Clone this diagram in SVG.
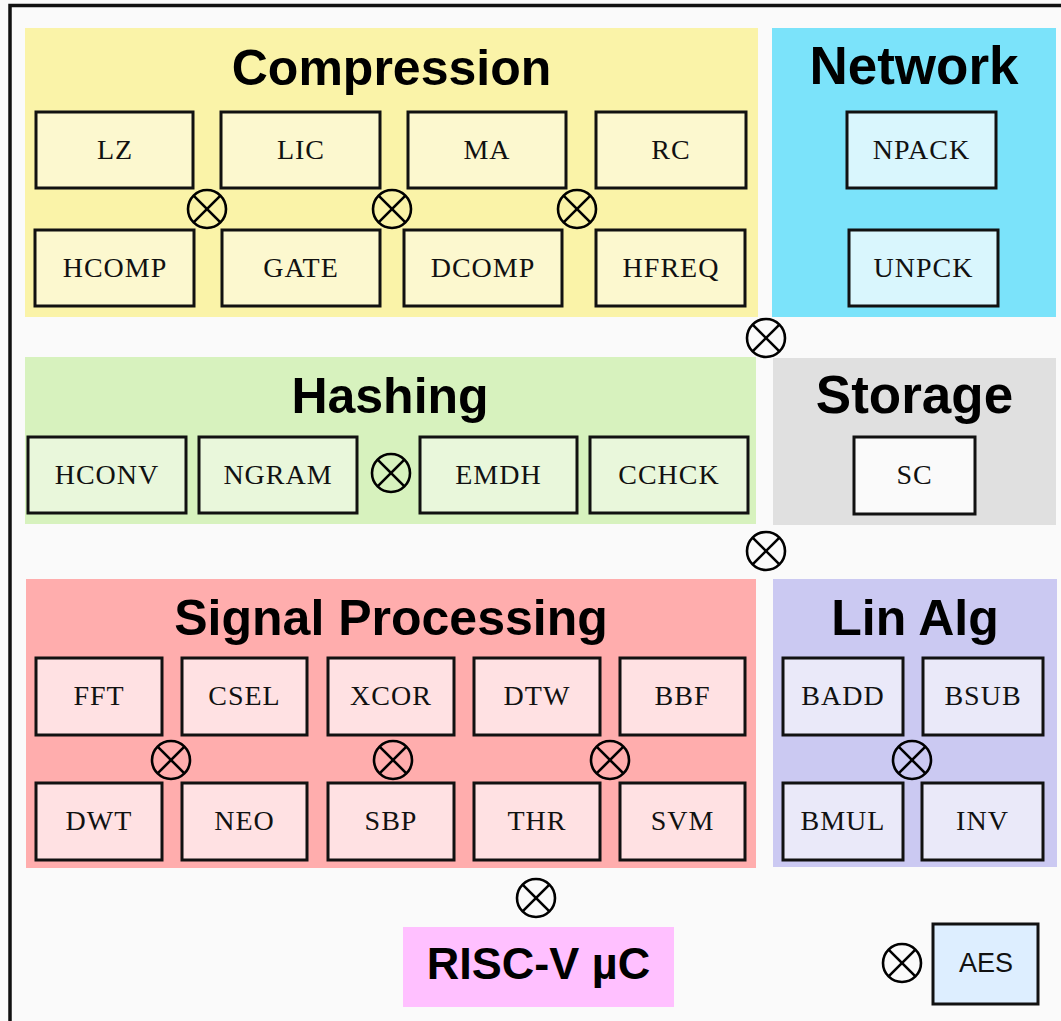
<svg xmlns="http://www.w3.org/2000/svg" xmlns:xlink="http://www.w3.org/1999/xlink" width="1061" height="1021" viewBox="0 0 1061 1021">
<style>
.bg{fill:#FAFAFA}
.title{font-family:"Liberation Sans",Arial,sans-serif;font-weight:bold;font-size:50px;text-anchor:middle;fill:#000}
.title.wide{font-size:53px}
.box{stroke:#111;stroke-width:3}
.lbl{font-family:"Liberation Serif","Times New Roman",serif;font-size:28px;letter-spacing:1px;text-anchor:middle;fill:#111}
.xing circle{fill:none;stroke:#000;stroke-width:2.6}
.xing line{stroke:#000;stroke-width:2.6}
</style>
<defs>
<g id="xor" class="xing">
<circle cx="0" cy="0" r="19"/>
<line x1="-13.4" y1="-13.4" x2="13.4" y2="13.4"/>
<line x1="13.4" y1="-13.4" x2="-13.4" y2="13.4"/>
</g>
</defs>
<rect class="bg" x="0" y="0" width="1061" height="1021"/>
<path d="M10,1021 V5.5 H1061" fill="none" stroke="#111" stroke-width="3.5"/>

<g id="compression">
<rect x="25" y="28" width="733" height="289" fill="#FAF3A8"/>
<text class="title" x="391.5" y="85">Compression</text>
<g fill="#FCF8CF">
<rect class="box" x="36" y="112" width="157" height="76"/>
<rect class="box" x="221" y="112" width="159" height="76"/>
<rect class="box" x="408" y="112" width="158" height="76"/>
<rect class="box" x="596" y="112" width="150" height="76"/>
<rect class="box" x="35" y="230" width="159" height="76"/>
<rect class="box" x="222" y="230" width="158" height="76"/>
<rect class="box" x="404" y="230" width="158" height="76"/>
<rect class="box" x="596" y="230" width="149" height="76"/>
</g>
<text class="lbl" x="115" y="159">LZ</text>
<text class="lbl" x="301" y="159">LIC</text>
<text class="lbl" x="487" y="159">MA</text>
<text class="lbl" x="671" y="159">RC</text>
<text class="lbl" x="115" y="277">HCOMP</text>
<text class="lbl" x="301" y="277">GATE</text>
<text class="lbl" x="483" y="277">DCOMP</text>
<text class="lbl" x="671" y="277">HFREQ</text>
</g>

<g id="network">
<rect x="772" y="28" width="284" height="289" fill="#7BE3FA"/>
<text class="title wide" x="914" y="84">Network</text>
<g fill="#D9F6FD">
<rect class="box" x="847" y="112" width="149" height="76"/>
<rect class="box" x="849" y="230" width="149" height="76"/>
</g>
<text class="lbl" x="921.5" y="159">NPACK</text>
<text class="lbl" x="923.5" y="277">UNPCK</text>
</g>

<g id="hashing">
<rect x="25" y="357" width="731" height="167" fill="#D7F2BE"/>
<text class="title" x="390" y="413">Hashing</text>
<g fill="#E9F7DB">
<rect class="box" x="28" y="437" width="158" height="76"/>
<rect class="box" x="199" y="437" width="158" height="76"/>
<rect class="box" x="420" y="437" width="157" height="76"/>
<rect class="box" x="590" y="437" width="158" height="76"/>
</g>
<text class="lbl" x="107" y="484">HCONV</text>
<text class="lbl" x="278" y="484">NGRAM</text>
<text class="lbl" x="498.5" y="484">EMDH</text>
<text class="lbl" x="669" y="484">CCHCK</text>
</g>

<g id="storage">
<rect x="773" y="358" width="283" height="167" fill="#E0E0E0"/>
<text class="title wide" x="914.5" y="413">Storage</text>
<rect class="box" x="854" y="437" width="121" height="77" fill="#FAFAFA"/>
<text class="lbl" x="914.5" y="484">SC</text>
</g>

<g id="signal-processing">
<rect x="26" y="579" width="730" height="289" fill="#FFADAD"/>
<text class="title" x="391" y="635">Signal Processing</text>
<g fill="#FFE1E3">
<rect class="box" x="36" y="658" width="126" height="77"/>
<rect class="box" x="182" y="658" width="125" height="77"/>
<rect class="box" x="328" y="658" width="126" height="77"/>
<rect class="box" x="474" y="658" width="126" height="77"/>
<rect class="box" x="620" y="658" width="125" height="77"/>
<rect class="box" x="36" y="783" width="126" height="77"/>
<rect class="box" x="182" y="783" width="125" height="77"/>
<rect class="box" x="328" y="783" width="126" height="77"/>
<rect class="box" x="474" y="783" width="126" height="77"/>
<rect class="box" x="620" y="783" width="125" height="77"/>
</g>
<text class="lbl" x="99" y="705">FFT</text>
<text class="lbl" x="244.5" y="705">CSEL</text>
<text class="lbl" x="391" y="705">XCOR</text>
<text class="lbl" x="537" y="705">DTW</text>
<text class="lbl" x="682.5" y="705">BBF</text>
<text class="lbl" x="99" y="830">DWT</text>
<text class="lbl" x="244.5" y="830">NEO</text>
<text class="lbl" x="391" y="830">SBP</text>
<text class="lbl" x="537" y="830">THR</text>
<text class="lbl" x="682.5" y="830">SVM</text>
</g>

<g id="lin-alg">
<rect x="773" y="579" width="284" height="288" fill="#CBC9F2"/>
<text class="title" x="915" y="635">Lin Alg</text>
<g fill="#EAE9F9">
<rect class="box" x="783" y="658" width="120" height="77"/>
<rect class="box" x="923" y="658" width="120" height="77"/>
<rect class="box" x="783" y="783" width="120" height="77"/>
<rect class="box" x="922" y="783" width="121" height="77"/>
</g>
<text class="lbl" x="843" y="705">BADD</text>
<text class="lbl" x="983" y="705">BSUB</text>
<text class="lbl" x="843" y="830">BMUL</text>
<text class="lbl" x="982.5" y="830">INV</text>
</g>

<g id="risc-v">
<rect x="403" y="927" width="271" height="80" fill="#FFC0FF"/>
<text x="538.5" y="979" font-family="Liberation Sans, Arial, sans-serif" font-weight="bold" font-size="45" text-anchor="middle" fill="#000">RISC-V µC</text>
</g>

<g id="aes">
<rect class="box" x="933" y="924" width="105" height="80" fill="#DDEEFF"/>
<text x="986" y="972" font-family="Liberation Sans, Arial, sans-serif" font-size="27" text-anchor="middle" fill="#111">AES</text>
</g>

<g id="connectors">
<use xlink:href="#xor" x="207" y="209"/>
<use xlink:href="#xor" x="392" y="209"/>
<use xlink:href="#xor" x="577" y="209"/>
<use xlink:href="#xor" x="766" y="338"/>
<use xlink:href="#xor" x="391" y="473"/>
<use xlink:href="#xor" x="766" y="551"/>
<use xlink:href="#xor" x="171" y="760"/>
<use xlink:href="#xor" x="393" y="760"/>
<use xlink:href="#xor" x="610" y="760"/>
<use xlink:href="#xor" x="912" y="760"/>
<use xlink:href="#xor" x="536" y="898"/>
<use xlink:href="#xor" x="902" y="963"/>
</g>
</svg>
